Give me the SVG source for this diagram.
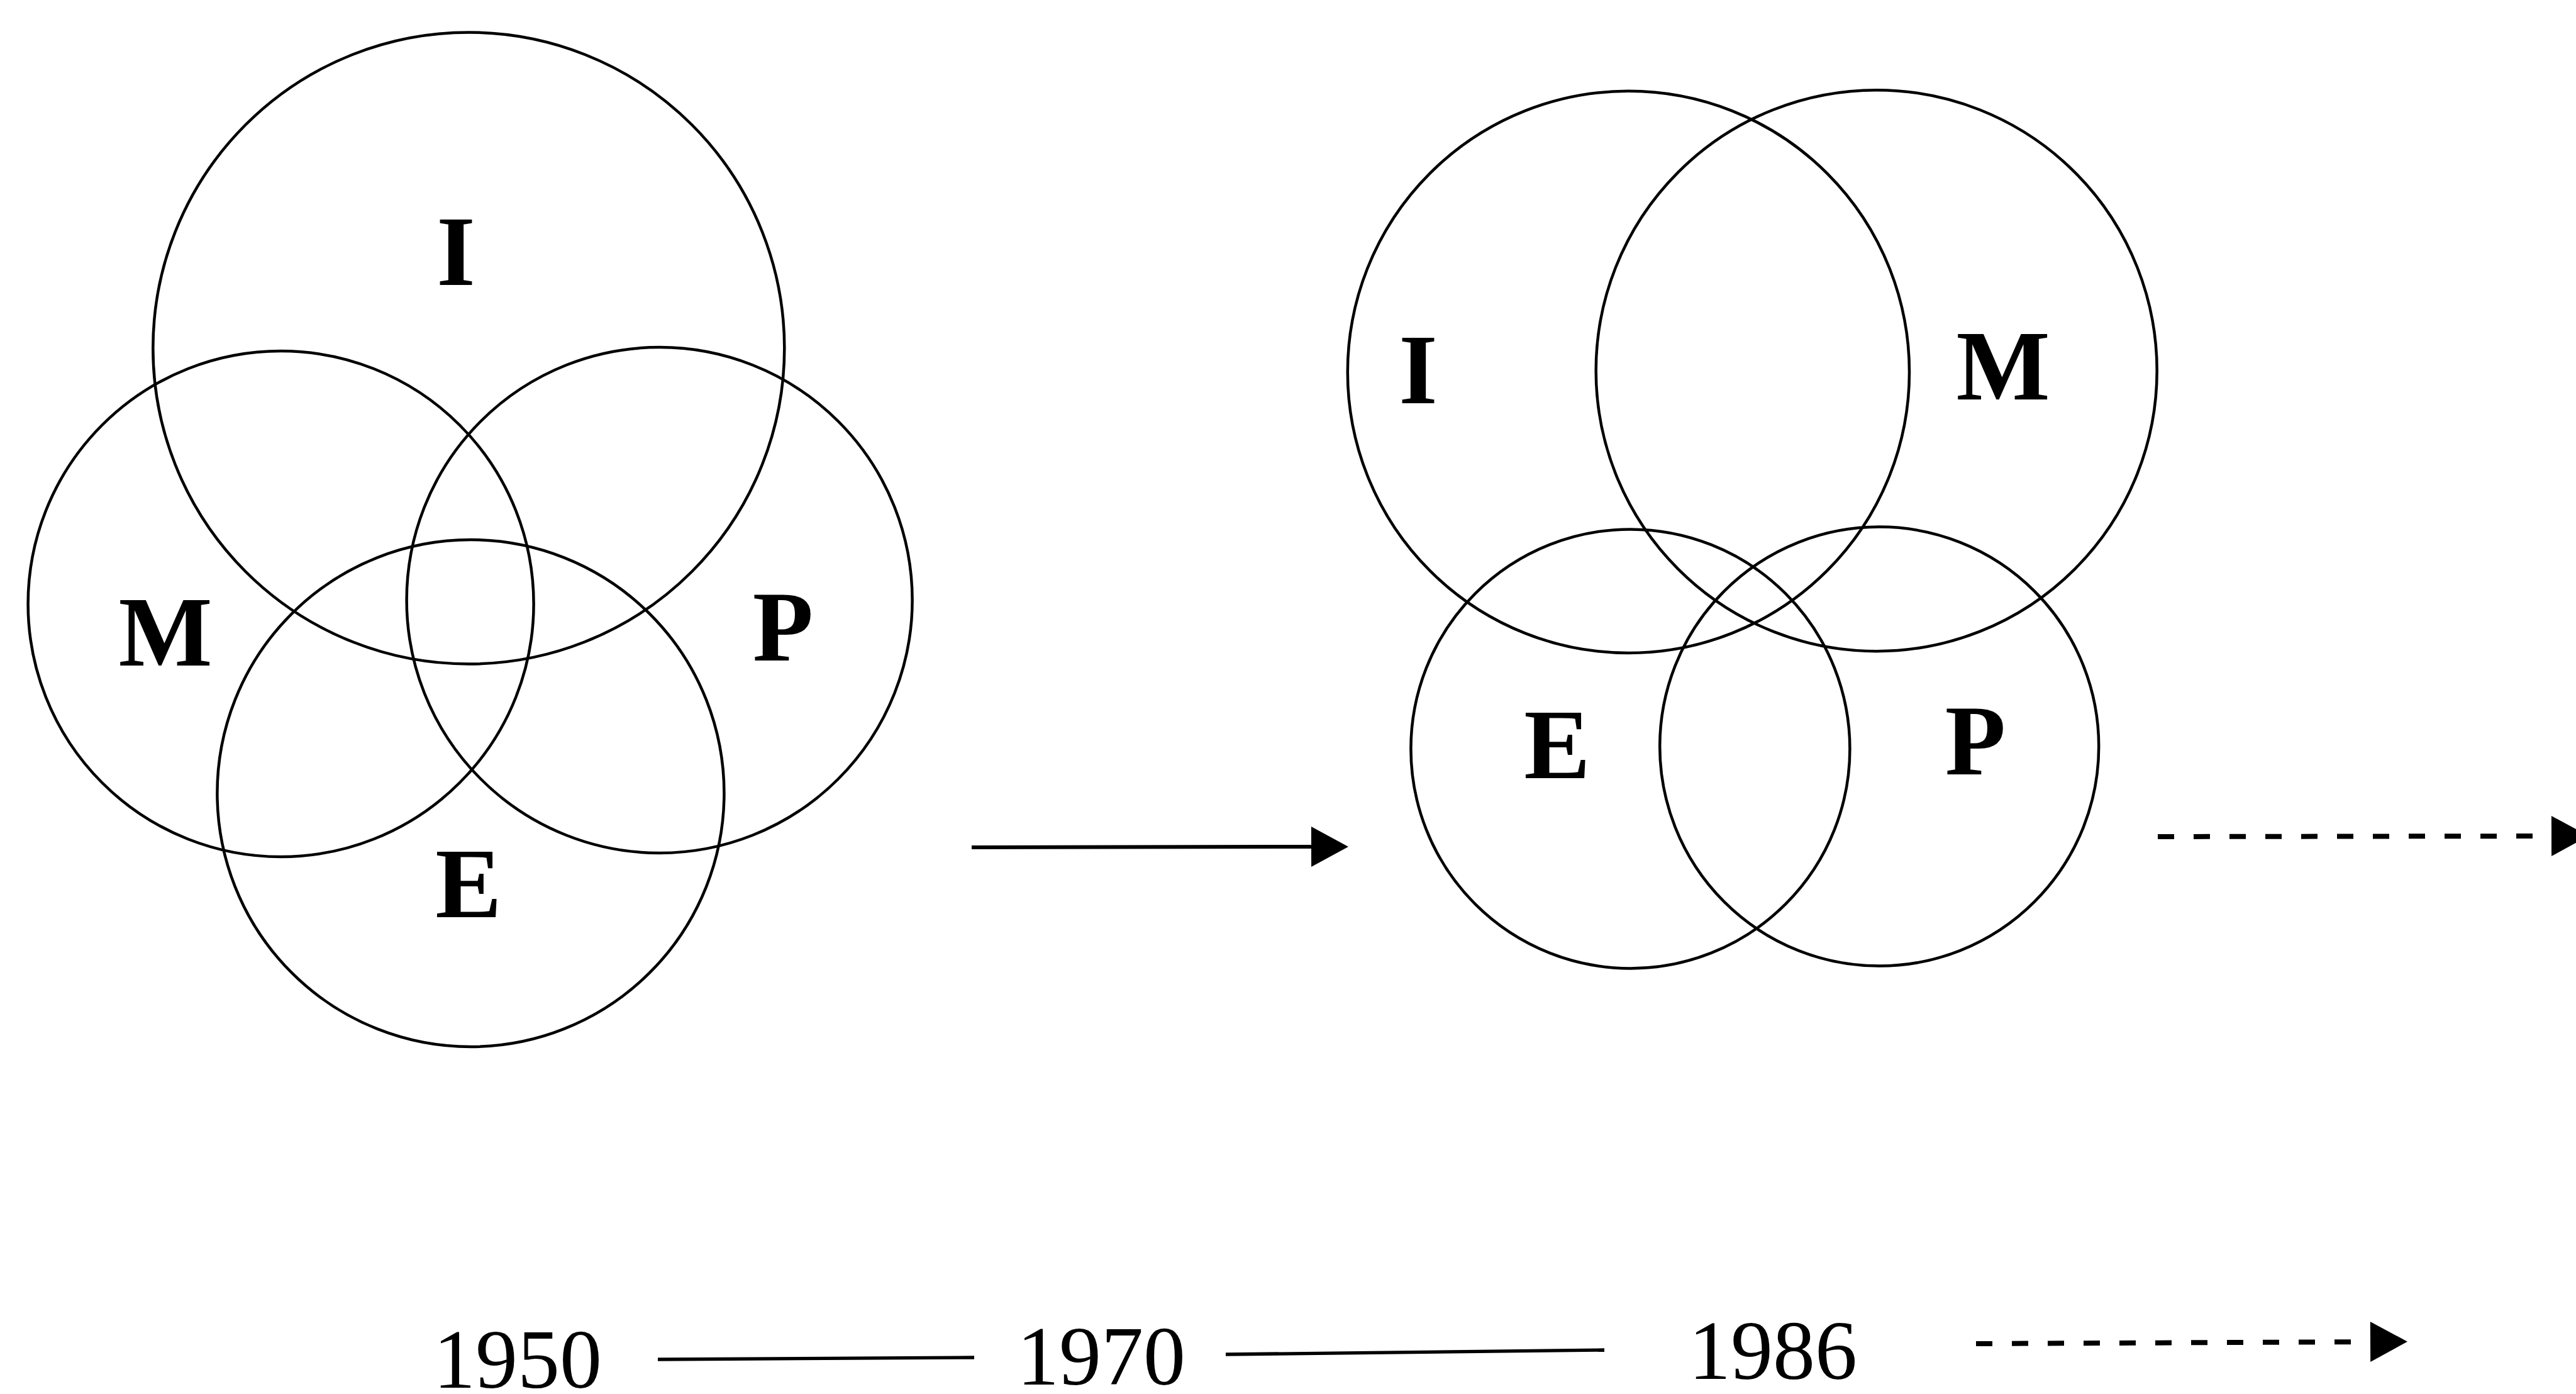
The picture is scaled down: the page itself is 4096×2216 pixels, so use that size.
<svg xmlns="http://www.w3.org/2000/svg" width="4096" height="2216" viewBox="0 0 4096 2216">
<style>
.c{fill:none;stroke:#000;stroke-width:4.5}
.lbl{font-family:"Liberation Serif","Times New Roman",serif;font-weight:bold;font-size:158px;text-anchor:middle;fill:#000}
.yr{font-family:"Liberation Serif","Times New Roman",serif;font-size:134px;text-anchor:middle;fill:#000}
.ln{fill:none;stroke:#000;stroke-width:6}
.dash{fill:none;stroke:#000;stroke-width:8;stroke-dasharray:26 31}
</style>
<defs>
<marker id="ah" markerUnits="userSpaceOnUse" markerWidth="60" markerHeight="66" refX="0" refY="32" orient="auto" overflow="visible">
<path d="M0,0 L59,32 L0,64 z" fill="#000"/>
</marker>
</defs>
<rect width="4096" height="2216" fill="#fff"/>
<g id="diagram1950">
<g id="n-I1"><circle class="c" cx="745.3" cy="553.5" r="502"/><text class="lbl" x="725" y="453">I</text></g>
<g id="n-M1"><circle class="c" cx="446.6" cy="960" r="402"/><text class="lbl" x="263" y="1058">M</text></g>
<g id="n-P1"><circle class="c" cx="1048.6" cy="954" r="402"/><text class="lbl" x="1245" y="1050">P</text></g>
<g id="n-E1"><circle class="c" cx="748.4" cy="1261" r="403"/><text class="lbl" x="745" y="1458">E</text></g>
</g>
<g id="diagram1986">
<g id="n-I2"><circle class="c" cx="2589.4" cy="591.4" r="446.6"/><text class="lbl" x="2255" y="641">I</text></g>
<g id="n-M2"><circle class="c" cx="2983.7" cy="589.2" r="446"/><text class="lbl" x="3185" y="635">M</text></g>
<g id="n-E2"><circle class="c" cx="2592.4" cy="1190.4" r="349"/><text class="lbl" x="2476" y="1237">E</text></g>
<g id="n-P2"><circle class="c" cx="2988.2" cy="1186.6" r="349"/><text class="lbl" x="3141" y="1231">P</text></g>
</g>
<g id="years">
<text class="yr" x="823" y="2206">1950</text>
<text class="yr" x="1751" y="2201">1970</text>
<text class="yr" x="2819" y="2192">1986</text>
</g>
<g id="connectors">
<line class="ln" x1="1545" y1="1347" x2="2085" y2="1346" marker-end="url(#ah)"/>
<line class="dash" x1="3431" y1="1330" x2="4057" y2="1329" marker-end="url(#ah)"/>
<line class="ln" x1="1046" y1="2161" x2="1549" y2="2158" style="stroke-width:5.3"/>
<line class="ln" x1="1949" y1="2153" x2="2551" y2="2146" style="stroke-width:5.3"/>
<line class="dash" x1="3142" y1="2136" x2="3769" y2="2133" marker-end="url(#ah)"/>
</g>
</svg>
